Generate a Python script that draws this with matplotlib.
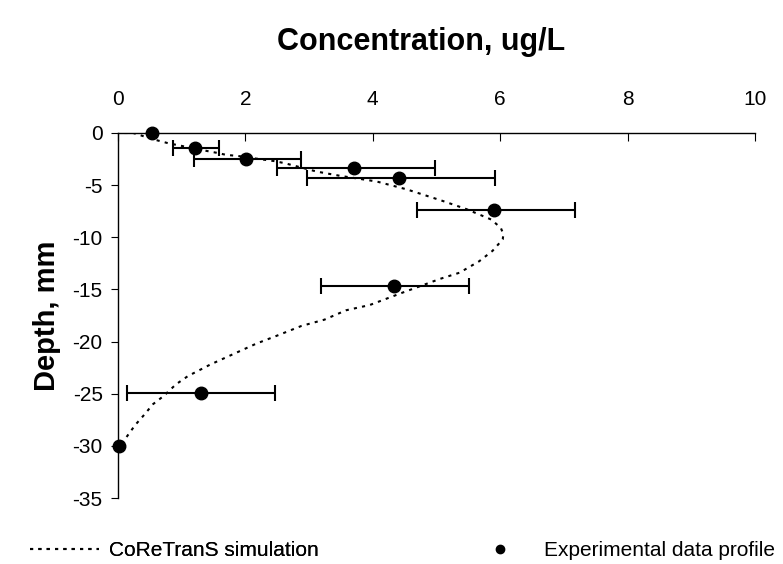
import numpy as np
import matplotlib
matplotlib.use("Agg")
import matplotlib.pyplot as plt

plt.rcParams['font.family'] = ['Liberation Sans', 'DejaVu Sans']
plt.rcParams['axes.unicode_minus'] = False

# experimental profile
conc = [0.53, 1.21, 2.01, 3.70, 4.41, 5.91, 4.33, 1.30, 0.02]
depth = [0.0, -1.4, -2.45, -3.35, -4.3, -7.4, -14.7, -24.9, -30.0]
err_left = [np.nan, 0.86, 1.19, 2.49, 2.97, 4.69, 3.19, 0.14, np.nan]
err_right = [np.nan, 1.59, 2.87, 4.97, 5.92, 7.18, 5.51, 2.47, np.nan]

# CoReTranS simulation
sim_conc = [0.10, 0.24, 0.55, 0.80, 0.97, 1.20, 1.55, 1.70, 1.88, 2.10, 2.46, 2.62,
            3.12, 3.48, 4.06, 4.53, 5.09, 5.47, 5.86, 6.01, 6.05, 6.04, 5.88, 5.67,
            5.36, 5.05, 4.47, 3.95, 3.58, 3.24, 2.88, 2.51, 2.17, 1.81, 1.45, 1.10,
            0.91, 0.72, 0.55, 0.40, 0.27, 0.14, 0.03]
sim_depth = [0.0, 0.0, -0.6, -1.0, -1.2, -1.5, -1.9, -2.1, -2.2, -2.4, -2.7, -2.9,
             -3.7, -4.1, -4.65, -5.4, -6.5, -7.3, -8.3, -9.1, -9.7, -10.2, -11.3, -12.3,
             -13.4, -14.0, -15.3, -16.5, -17.0, -17.9, -18.5, -19.4, -20.2, -21.2, -22.2, -23.3,
             -24.1, -25.2, -26.0, -27.1, -28.0, -29.1, -30.0]

conc_a = np.array(conc)
xerr = np.vstack([conc_a - np.array(err_left), np.array(err_right) - conc_a])

fig = plt.figure(figsize=(7.83, 5.64), dpi=100)
ax = fig.add_axes([0.1507, 0.117, 0.8135, 0.6472])

sim_line, = ax.plot(sim_conc, sim_depth, color='black', linewidth=1.5,
                    linestyle=(0, (1.5, 2.5)), label='CoReTranS simulation')
ax.errorbar(conc, depth, xerr=xerr, fmt='none', ecolor='black',
            elinewidth=1.5, capsize=6, capthick=1.5)
ax.plot(conc, depth, 'o', color='black', markersize=9, clip_on=False, zorder=5)
exp_marker, = ax.plot([], [], 'o', color='black', markersize=6,
                      label='Experimental data profile')

ax.set_xlim(0, 10)
ax.set_ylim(-35, 0)
ax.set_xticks([0, 2, 4, 6, 8, 10])
ax.set_yticks([0, -5, -10, -15, -20, -25, -30, -35])
ax.xaxis.tick_top()
ax.spines['bottom'].set_visible(False)
ax.spines['right'].set_visible(False)
ax.spines['top'].set_linewidth(1.0)
ax.spines['left'].set_linewidth(1.0)
ax.tick_params(axis='x', direction='in', length=6, pad=17, labelsize=15)
ax.tick_params(axis='y', direction='out', length=5, pad=6, labelsize=15)
ax.set_ylabel('Depth, mm', fontsize=21, fontweight='bold', labelpad=8)

fig.text(0.538, 0.926, 'Concentration, ug/L', ha='center', va='center',
         fontsize=22, fontweight='bold')

leg1 = fig.legend(handles=[sim_line], loc='center left', bbox_to_anchor=(30 / 783, 0.024),
                  frameon=False, fontsize=15, handlelength=3.3, handletextpad=0.5,
                  borderpad=0, borderaxespad=0)
fig.add_artist(leg1)
fig.legend(handles=[exp_marker], loc='center left', bbox_to_anchor=(479 / 783, 0.024),
           frameon=False, fontsize=15, handlelength=2.0, handletextpad=1.1,
           borderpad=0, borderaxespad=0)

fig.savefig('out.png', dpi=100)
